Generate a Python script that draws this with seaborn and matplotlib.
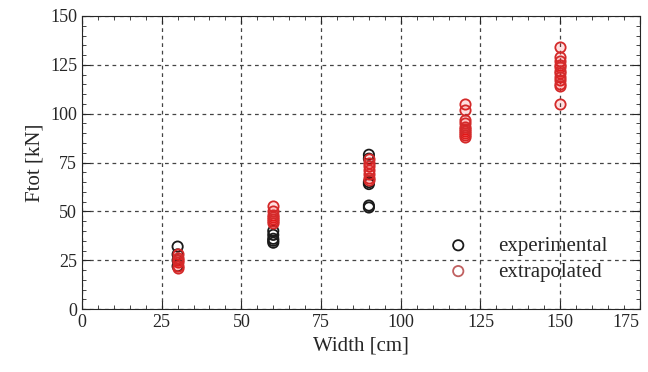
import pandas as pd
import seaborn as sns
import matplotlib.pyplot as plt
from matplotlib.ticker import MultipleLocator

sns.set_style("ticks")
plt.rcParams['font.family'] = ['Liberation Serif', 'DejaVu Serif']

# experimental points
exp_width = [30, 30, 30, 30, 60, 60, 60, 60, 60, 90, 90, 90, 90, 90, 90]
exp_ftot = [32, 28, 25, 22, 40, 38, 36, 35, 34, 79, 77, 65, 64, 53, 52]

# extrapolated points
ext_width = [30] * 6 + [60] * 7 + [90] * 7 + [120] * 10 + [150] * 12
ext_ftot = [28, 26, 25, 24, 22, 21,
            53, 50, 48, 47, 46, 45, 44,
            77, 75, 73, 71, 69, 67, 66,
            105, 102, 97, 95, 93, 92, 91, 90, 89, 88,
            134, 129, 127, 125, 124, 122, 121, 119, 117, 115, 114, 105]

x_ticks = [0, 25, 50, 75, 100, 125, 150, 175]

df = pd.concat([
    pd.DataFrame({'Width': exp_width, 'Ftot': exp_ftot, 'kind': 'experimental'}),
    pd.DataFrame({'Width': ext_width, 'Ftot': ext_ftot, 'kind': 'extrapolated'}),
])

fig = plt.figure(figsize=(6.48, 3.72), dpi=100)
ax = fig.add_axes([0.1265, 0.169, 0.861, 0.788])

ax.grid(True, color='#444444', linestyle=(0, (3, 3)), linewidth=0.9)
ax.set_axisbelow(True)

edge = {'experimental': '#1a1a1a', 'extrapolated': '#d42a2a'}
for kind, sub in df.groupby('kind'):
    sns.scatterplot(data=sub, x='Width', y='Ftot', ax=ax, marker='o', s=55,
                    facecolor=(1, 0, 0, 0.12) if kind == 'extrapolated' else 'none',
                    edgecolor=edge[kind], linewidth=1.3, label=kind, zorder=3)

ax.set_xlim(0, 175)
ax.set_ylim(0, 150)
ax.set_xticks(x_ticks)
ax.xaxis.set_minor_locator(MultipleLocator(5))
ax.yaxis.set_major_locator(MultipleLocator(25))
ax.yaxis.set_minor_locator(MultipleLocator(5))
ax.tick_params(which='both', direction='in', top=True, right=True, labelsize=13)
ax.tick_params(which='major', length=6)
ax.tick_params(which='minor', length=3)
ax.set_xlabel('Width [cm]', fontsize=15)
ax.set_ylabel('Ftot [kN]', fontsize=15)
# last x label sits inside the figure edge
ax.xaxis.get_major_ticks()[-1].label1.set_horizontalalignment('right')

leg = ax.legend(loc='lower right', bbox_to_anchor=(0.975, 0.03), frameon=False,
                fontsize=15, handletextpad=0.9, labelspacing=0.3)
leg.legend_handles[1].set_edgecolor('#c06060')
leg.legend_handles[1].set_facecolor('none')

plt.savefig('out.png', dpi=100)
